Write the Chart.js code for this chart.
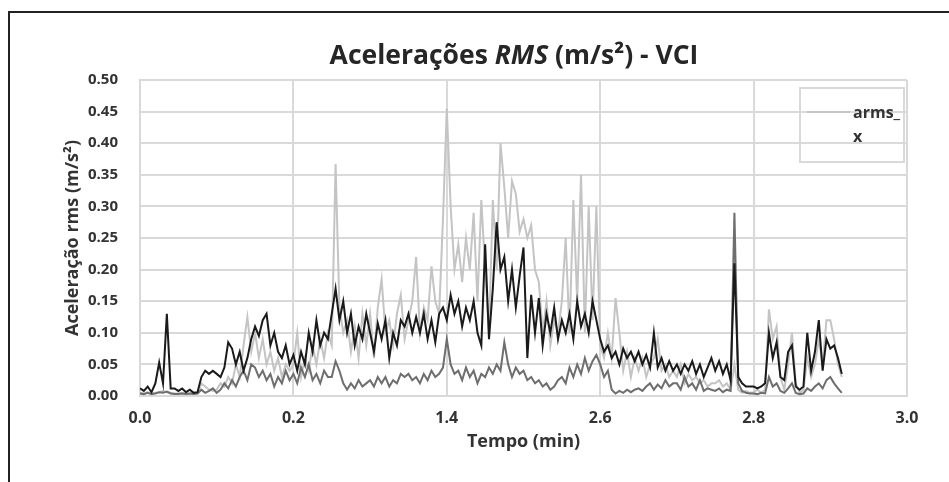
<!DOCTYPE html>
<html><head><meta charset="utf-8">
<script src="https://cdn.jsdelivr.net/npm/chart.js@4"></script>
<style>
html,body{margin:0;padding:0;background:#fff;}
#wrap{position:relative;width:949px;height:482px;overflow:hidden;}
#frame{position:absolute;left:8px;top:11px;right:-10px;bottom:-10px;border-left:2px solid #222;border-top:2px solid #222;}
canvas{position:absolute;left:0;top:0;}
</style></head><body>
<div id="wrap"><div id="frame"></div><canvas id="c" width="949" height="482"></canvas></div>
<script>
const xTickLabels = ['0.0','0.2','1.4','2.6','2.8','3.0'];
const sampleStep = 0.025;
const seriesNames = ['arms_z','arms_y','arms_x'];

// black series
const armsZ = [
0.012,0.008,0.015,0.006,0.02,0.053,0.02,0.13,0.012,0.012,
0.008,0.012,0.006,0.01,0.005,0.006,0.03,0.04,0.035,0.04,
0.035,0.03,0.045,0.085,0.075,0.05,0.07,0.04,0.06,0.09,
0.11,0.095,0.12,0.13,0.08,0.1,0.07,0.06,0.08,0.05,
0.065,0.04,0.07,0.05,0.1,0.07,0.12,0.08,0.1,0.09,
0.13,0.17,0.12,0.15,0.1,0.13,0.08,0.11,0.09,0.13,
0.1,0.07,0.115,0.09,0.12,0.06,0.1,0.08,0.12,0.11,
0.13,0.1,0.125,0.1,0.13,0.09,0.12,0.085,0.13,0.14,
0.12,0.16,0.13,0.15,0.11,0.14,0.12,0.15,0.1,0.08,
0.24,0.09,0.17,0.275,0.2,0.22,0.15,0.2,0.14,0.19,
0.235,0.06,0.16,0.1,0.155,0.08,0.13,0.1,0.14,0.09,
0.12,0.1,0.13,0.09,0.15,0.11,0.13,0.1,0.15,0.12,
0.09,0.07,0.08,0.06,0.07,0.05,0.075,0.06,0.07,0.055,
0.07,0.05,0.065,0.045,0.1,0.045,0.06,0.04,0.055,0.04,
0.05,0.035,0.05,0.04,0.055,0.035,0.05,0.03,0.045,0.06,
0.04,0.055,0.035,0.05,0.025,0.21,0.03,0.02,0.015,0.015,
0.015,0.012,0.015,0.02,0.1,0.06,0.085,0.03,0.025,0.07,
0.08,0.015,0.01,0.015,0.1,0.04,0.07,0.12,0.04,0.09,
0.075,0.08,0.06,0.035
];
// dark gray series
const armsY = [
0.004,0.003,0.005,0.003,0.004,0.006,0.005,0.007,0.004,0.003,
0.003,0.004,0.003,0.004,0.003,0.004,0.01,0.005,0.008,0.012,
0.005,0.01,0.02,0.012,0.025,0.015,0.03,0.04,0.025,0.05,
0.045,0.03,0.04,0.025,0.035,0.015,0.03,0.02,0.04,0.025,
0.035,0.02,0.045,0.03,0.05,0.025,0.035,0.02,0.04,0.03,
0.03,0.055,0.04,0.02,0.01,0.02,0.012,0.025,0.015,0.02,
0.025,0.015,0.03,0.02,0.03,0.015,0.025,0.02,0.035,0.03,
0.035,0.025,0.03,0.02,0.035,0.025,0.04,0.03,0.035,0.045,
0.09,0.05,0.035,0.04,0.025,0.045,0.03,0.04,0.02,0.035,
0.03,0.045,0.035,0.05,0.04,0.085,0.05,0.03,0.045,0.035,
0.04,0.025,0.03,0.02,0.025,0.015,0.02,0.01,0.015,0.025,
0.03,0.02,0.045,0.03,0.05,0.035,0.06,0.04,0.055,0.065,
0.05,0.03,0.04,0.01,0.004,0.008,0.005,0.01,0.006,0.01,
0.012,0.008,0.015,0.02,0.01,0.018,0.012,0.025,0.015,0.02,
0.02,0.01,0.03,0.015,0.02,0.01,0.025,0.008,0.012,0.01,
0.008,0.012,0.006,0.01,0.008,0.29,0.02,0.008,0.005,0.004,
0.004,0.003,0.005,0.004,0.03,0.015,0.02,0.008,0.005,0.012,
0.02,0.005,0.003,0.004,0.012,0.008,0.015,0.02,0.012,0.025,
0.03,0.02,0.012,0.005
];
// light gray series
const armsX = [
0.005,0.004,0.006,0.004,0.005,0.006,0.008,0.006,0.005,0.004,
0.004,0.005,0.003,0.004,0.005,0.004,0.02,0.015,0.01,0.008,
0.01,0.02,0.015,0.03,0.02,0.05,0.03,0.08,0.125,0.07,
0.1,0.06,0.09,0.05,0.07,0.04,0.06,0.03,0.05,0.04,
0.05,0.1,0.03,0.06,0.04,0.08,0.05,0.09,0.06,0.1,
0.08,0.367,0.14,0.1,0.12,0.07,0.11,0.06,0.13,0.08,
0.13,0.06,0.14,0.185,0.1,0.12,0.08,0.13,0.16,0.09,
0.12,0.15,0.22,0.1,0.14,0.12,0.205,0.15,0.13,0.28,
0.455,0.3,0.2,0.24,0.18,0.25,0.2,0.29,0.15,0.31,
0.2,0.1,0.31,0.2,0.4,0.33,0.25,0.34,0.32,0.26,
0.28,0.25,0.27,0.2,0.18,0.1,0.15,0.08,0.12,0.1,
0.15,0.25,0.1,0.31,0.15,0.35,0.1,0.3,0.12,0.3,
0.08,0.06,0.1,0.06,0.155,0.1,0.04,0.07,0.03,0.06,
0.04,0.06,0.03,0.05,0.06,0.09,0.04,0.05,0.03,0.04,
0.03,0.05,0.02,0.035,0.025,0.03,0.02,0.025,0.015,0.02,
0.02,0.025,0.015,0.02,0.01,0.05,0.01,0.005,0.008,0.005,
0.006,0.01,0.005,0.01,0.137,0.09,0.11,0.03,0.01,0.05,
0.1,0.02,0.005,0.01,0.06,0.03,0.05,0.09,0.05,0.12,
0.12,0.09,0.05,0.03
];

const toPoints = arr => arr.map((v, i) => ({x: i * sampleStep, y: v}));

const titlePlugin = {
  id: 'richTitle',
  afterDraw(chart) {
    const ctx = chart.ctx;
    const parts = [
      {t: 'Acelerações ', s: 'normal'},
      {t: 'RMS', s: 'italic'},
      {t: ' (m/s²) - VCI', s: 'normal'}
    ];
    const size = 26.5;
    ctx.save();
    ctx.fillStyle = '#262626';
    ctx.textBaseline = 'middle';
    ctx.textAlign = 'left';
    let total = 0;
    parts.forEach(p => { ctx.font = p.s + ' bold ' + size + 'px "Open Sans"'; p.w = ctx.measureText(p.t).width; total += p.w; });
    let x = 514 - total / 2;
    parts.forEach(p => { ctx.font = p.s + ' bold ' + size + 'px "Open Sans"'; ctx.fillText(p.t, x, 56); x += p.w; });
    ctx.restore();
  }
};

const legendPlugin = {
  id: 'boxLegend',
  afterDraw(chart) {
    const ctx = chart.ctx;
    const ds = chart.data.datasets[2];
    ctx.save();
    ctx.strokeStyle = '#d9d9d9';
    ctx.lineWidth = 2;
    ctx.strokeRect(800, 88, 104, 74);
    ctx.strokeStyle = ds.borderColor;
    ctx.beginPath(); ctx.moveTo(807, 112); ctx.lineTo(850, 112); ctx.stroke();
    ctx.fillStyle = '#333';
    ctx.font = 'bold 16px "Open Sans"';
    ctx.textBaseline = 'middle';
    ctx.textAlign = 'left';
    const name = ds.label;
    ctx.fillText(name.slice(0, 5), 853, 113);
    ctx.fillText(name.slice(5), 853, 137);
    ctx.restore();
  }
};

new Chart(document.getElementById('c'), {
  type: 'line',
  data: {
    datasets: [
      {label: seriesNames[0], data: toPoints(armsZ), borderColor: '#1a1a1a', borderWidth: 2, order: 0},
      {label: seriesNames[1], data: toPoints(armsY), borderColor: '#6e6e6e', borderWidth: 2, order: 1},
      {label: seriesNames[2], data: toPoints(armsX), borderColor: '#c4c4c4', borderWidth: 2, order: 2}
    ]
  },
  options: {
    responsive: false,
    animation: false,
    parsing: false,
    elements: {point: {radius: 0}, line: {tension: 0}},
    layout: {padding: {left: 12, right: 42, top: 80, bottom: 26}},
    plugins: {legend: {display: false}, title: {display: false}, tooltip: {enabled: false}},
    scales: {
      x: {
        type: 'linear', min: 0, max: 5,
        afterFit(s) { s.height = 60; },
        grid: {color: '#d9d9d9', lineWidth: 2, drawTicks: false},
        border: {display: true, color: '#d9d9d9', width: 2},
        ticks: {
          stepSize: 1, autoSkip: false, maxRotation: 0, padding: 13,
          color: '#333', font: {family: '"Open Sans"', size: 16, weight: 'bold'},
          callback: v => xTickLabels[v]
        },
        title: {display: true, text: 'Tempo (min)', color: '#333',
          font: {family: '"Open Sans"', size: 18, weight: 'bold'}, padding: {bottom: 3}}
      },
      y: {
        min: 0, max: 0.5,
        afterFit(s) { s.width = 128; },
        grid: {color: '#d9d9d9', lineWidth: 2, drawTicks: false},
        border: {display: true, color: '#d9d9d9', width: 2},
        ticks: {
          stepSize: 0.05, padding: 22, color: '#333',
          font: {family: '"Open Sans"', size: 15, weight: 'bold'},
          callback: v => v.toFixed(2)
        },
        title: {display: true, text: 'Aceleração rms (m/s²)', color: '#333',
          font: {family: '"Open Sans"', size: 18, weight: 'bold'}, padding: {top: 50}}
      }
    }
  },
  plugins: [titlePlugin, legendPlugin]
});
</script>
</body></html>
